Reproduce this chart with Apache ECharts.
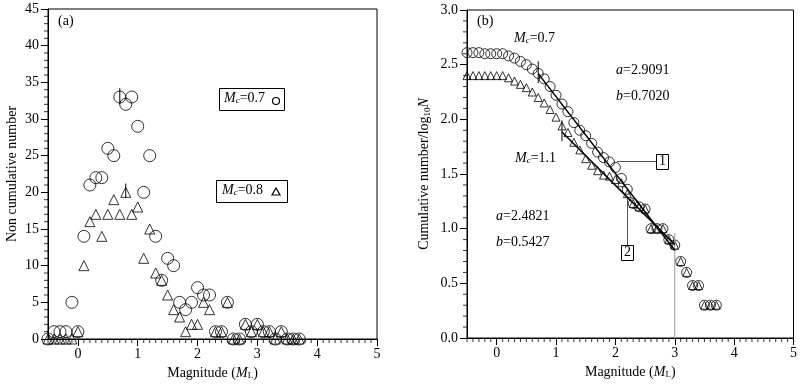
<!DOCTYPE html>
<html>
<head>
<meta charset="utf-8">
<script src="https://cdn.jsdelivr.net/npm/echarts@6/dist/echarts.min.js"></script>
<style>
  html, body { margin: 0; padding: 0; background: #fff; }
  #chart { width: 800px; height: 386px; }
</style>
</head>
<body>
<div id="chart"></div>
<script>
// magnitude bins (0.1 step)
const mags = [-0.5, -0.4, -0.3, -0.2, -0.1, 0.0, 0.1, 0.2, 0.3, 0.4, 0.5, 0.6, 0.7, 0.8, 0.9, 1.0,
  1.1, 1.2, 1.3, 1.4, 1.5, 1.6, 1.7, 1.8, 1.9, 2.0, 2.1, 2.2, 2.3, 2.4, 2.5, 2.6, 2.7, 2.8, 2.9,
  3.0, 3.1, 3.2, 3.3, 3.4, 3.5, 3.6, 3.7];

// (a) non cumulative counts
const countCircle = [0, 1, 1, 1, 5, 1, 14, 21, 22, 22, 26, 25, 33, 32, 33, 29, 20, 25, 14, 8, 11, 10,
  5, 4, 5, 7, 6, 6, 1, 1, 5, 0, 0, 2, 1, 2, 1, 1, 0, 1, 0, 0, 0];
const countTriangle = [0, 0, 0, 0, 0, 1, 10, 16, 17, 14, 17, 19, 17, 20, 17, 18, 11, 15, 9, 8, 6, 4,
  3, 1, 2, 2, 5, 4, 1, 1, 5, 0, 0, 2, 1, 2, 1, 1, 0, 1, 0, 0, 0];

// (b) cumulative log10 N
const cumCircle = [2.61, 2.61, 2.61, 2.60, 2.60, 2.60, 2.60, 2.58, 2.56, 2.53, 2.50, 2.46, 2.42, 2.37,
  2.30, 2.22, 2.14, 2.07, 1.97, 1.90, 1.85, 1.78, 1.70, 1.65, 1.61, 1.56, 1.46, 1.36, 1.23, 1.20,
  1.18, 1.00, 1.00, 1.00, 0.90, 0.85, 0.70, 0.60, 0.48, 0.48, 0.30, 0.30, 0.30];
const cumTriangle = [2.40, 2.40, 2.40, 2.40, 2.40, 2.40, 2.40, 2.38, 2.35, 2.32, 2.29, 2.25, 2.20, 2.15,
  2.09, 2.02, 1.94, 1.88, 1.79, 1.72, 1.64, 1.58, 1.53, 1.49, 1.48, 1.45, 1.42, 1.32, 1.23, 1.20,
  1.18, 1.00, 1.00, 1.00, 0.90, 0.85, 0.70, 0.60, 0.48, 0.48, 0.30, 0.30, 0.30];

// Gutenberg-Richter fits (end points), Mc markers
const fitLine1 = [[0.7, 2.418], [3.0, 0.803]];   // a=2.9091 b=0.7020
const fitLine2 = [[1.1, 1.885], [3.0, 0.854]];   // a=2.4821 b=0.5427
const mcLeftCircle = [[0.7, 32.0], [0.7, 34.2]];
const mcLeftTriangle = [[0.8, 19.2], [0.8, 21.2]];
const mcRightCircle = [[0.7, 2.33], [0.7, 2.53]];
const mcRightTriangle = [[1.1, 1.80], [1.1, 1.99]];
const maxMagLine = [[3.0, 0], [3.0, 0.96]];

const majorX = [0, 1, 2, 3, 4, 5];

// minor tick positions (axis decoration, not data)
const minorX = [];
for (let k = -5; k <= 50; k++) if (k % 10 !== 0) minorX.push(k / 10);
const minorYLeft = [];
for (let k = 1; k < 45; k++) if (k % 5 !== 0) minorYLeft.push(k);
const minorYRight = [];
for (let k = 1; k < 30; k++) if (k % 5 !== 0) minorYRight.push(k / 10);

const FONT = 'Liberation Serif';
const rich = {
    i: { fontFamily: FONT, fontSize: 14, fontStyle: 'italic', color: '#000' },
    s: { fontFamily: FONT, fontSize: 9, color: '#000', padding: [6, 0, 0, 0] },
    si: { fontFamily: FONT, fontSize: 9, fontStyle: 'italic', color: '#000', padding: [6, 0, 0, 0] },
    n: { fontFamily: FONT, fontSize: 14, color: '#000' }
};

const zip = (xs, ys) => xs.map((x, i) => [x, ys[i]]);

function mainX(gridIndex) {
    return {
        type: 'value', gridIndex, min: -0.5, max: 5, interval: 0.5,
        name: '{n|Magnitude (}{i|M}{s|L}{n|)}',
        nameLocation: 'middle', nameGap: 14,
        nameTextStyle: { rich },
        axisLine: { onZero: false, lineStyle: { color: '#000' } },
        axisTick: { customValues: majorX, length: 7, lineStyle: { color: '#000' } },
        axisLabel: { customValues: majorX, fontFamily: FONT, fontSize: 14, color: '#000', margin: 8 },
        splitLine: { show: false }
    };
}

function mainY(gridIndex, max, interval, name, gap, fmt) {
    return {
        type: 'value', gridIndex, min: 0, max, interval,
        name, nameLocation: 'middle', nameGap: gap, nameRotate: 90,
        nameTextStyle: { rich },
        axisLine: { onZero: false, lineStyle: { color: '#000' } },
        axisTick: { length: 7, lineStyle: { color: '#000' } },
        axisLabel: { fontFamily: FONT, fontSize: 14, color: '#000', margin: 9, formatter: fmt },
        splitLine: { show: false }
    };
}

function scatter(data, xi, yi, symbol, size) {
    return {
        type: 'scatter', xAxisIndex: xi, yAxisIndex: yi, data, symbol, symbolSize: size,
        itemStyle: { color: 'rgba(255,255,255,0)', borderColor: '#000', borderWidth: 1 },
        silent: true, z: 3
    };
}

// short outward tick marks placed through the axis scales
function ticks(data, xi, yi, size, offset) {
    return {
        type: 'scatter', xAxisIndex: xi, yAxisIndex: yi, data, symbol: 'rect',
        symbolSize: size, symbolOffset: offset, clip: false,
        itemStyle: { color: '#000' }, silent: true, z: 5
    };
}

function seg(data, xi, yi, color, width) {
    return {
        type: 'line', xAxisIndex: xi, yAxisIndex: yi, data, symbol: 'none',
        lineStyle: { color, width }, silent: true, z: 4
    };
}

function mcText(x, y, value) {
    return { type: 'text', left: x, top: y,
        style: { text: '{i|M}{si|c}{n|=' + value + '}', rich } };
}

function plain(x, y, txt) {
    return { type: 'text', left: x, top: y, style: { text: txt, rich } };
}

const chart = echarts.init(document.getElementById('chart'));

chart.setOption({
    backgroundColor: '#fff',
    animation: false,
    grid: [
        { left: 48, top: 9, width: 329, height: 330, show: true, borderColor: '#000', borderWidth: 1 },
        { left: 467, top: 10, width: 330, height: 328, show: true, borderColor: '#000', borderWidth: 1 }
    ],
    xAxis: [mainX(0), mainX(1)],
    yAxis: [
        mainY(0, 45, 5, '{n|Non cumulative number}', 29, null),
        mainY(1, 3, 0.5, '{n|Cumulative number/log}{s|10}{i|N}', 35, v => v.toFixed(1))
    ],
    series: [
        scatter(zip(mags, countCircle), 0, 0, 'circle', 12),
        scatter(zip(mags, countTriangle), 0, 0, 'triangle', 10),
        seg(mcLeftCircle, 0, 0, '#000', 1),
        seg(mcLeftTriangle, 0, 0, '#000', 1),
        ticks(minorX.map(v => [v, 0]), 0, 0, [1, 4], [0, 2]),
        ticks(minorYLeft.map(v => [-0.5, v]), 0, 0, [4, 1], [-2, 0]),

        seg(maxMagLine, 1, 1, '#999', 1),
        scatter(zip(mags, cumCircle), 1, 1, 'circle', 10),
        scatter(zip(mags, cumTriangle), 1, 1, 'triangle', 8),
        seg(fitLine1, 1, 1, '#000', 1.5),
        seg(fitLine2, 1, 1, '#000', 1.5),
        seg(mcRightCircle, 1, 1, '#000', 1),
        seg(mcRightTriangle, 1, 1, '#000', 1),
        ticks(minorX.map(v => [v, 0]), 1, 1, [1, 4], [0, 2]),
        ticks(minorYRight.map(v => [-0.5, v]), 1, 1, [4, 1], [-2, 0])
    ],
    graphic: [
        plain(58, 14, '{n|(a)}'),
        { type: 'rect', shape: { x: 219.5, y: 88.5, width: 65, height: 22 },
          style: { fill: 'none', stroke: '#000', lineWidth: 1 } },
        mcText(224, 91, '0.7'),
        { type: 'circle', shape: { cx: 276, cy: 101, r: 3.5 },
          style: { fill: 'none', stroke: '#000', lineWidth: 1.2 } },
        { type: 'rect', shape: { x: 216.5, y: 180.5, width: 71, height: 22 },
          style: { fill: 'none', stroke: '#000', lineWidth: 1 } },
        mcText(222, 183, '0.8'),
        { type: 'polygon', shape: { points: [[276, 188], [272, 195], [280, 195]] },
          style: { fill: 'none', stroke: '#000', lineWidth: 1.2 } },

        plain(477, 14, '{n|(b)}'),
        mcText(514, 31, '0.7'),
        mcText(515, 151, '1.1'),
        plain(616, 63, '{i|a}{n|=2.9091}'),
        plain(616, 89, '{i|b}{n|=0.7020}'),
        plain(496, 209, '{i|a}{n|=2.4821}'),
        plain(496, 235, '{i|b}{n|=0.5427}'),
        { type: 'line', shape: { x1: 617, y1: 161.5, x2: 656, y2: 161.5 },
          style: { stroke: '#555', lineWidth: 1 } },
        { type: 'rect', shape: { x: 656.5, y: 154.5, width: 12, height: 15 },
          style: { fill: '#fff', stroke: '#000', lineWidth: 1 } },
        plain(659, 154, '{n|1}'),
        { type: 'line', shape: { x1: 627.5, y1: 196, x2: 627.5, y2: 245 },
          style: { stroke: '#555', lineWidth: 1 } },
        { type: 'rect', shape: { x: 621.5, y: 245.5, width: 12, height: 15 },
          style: { fill: '#fff', stroke: '#000', lineWidth: 1 } },
        plain(624, 245, '{n|2}')
    ]
});
</script>
</body>
</html>
